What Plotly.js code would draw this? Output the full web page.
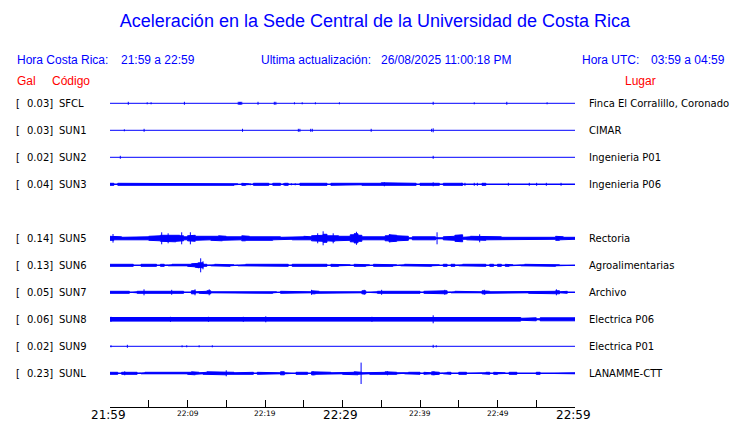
<!DOCTYPE html>
<html><head><meta charset="utf-8">
<script src="https://cdn.plot.ly/plotly-3.0.1.min.js"></script>
<style>html,body{margin:0;padding:0;background:#fff}#chart{width:740px;height:423px}</style>
</head><body><div id="chart"></div>
<script>
// ---------------- DATA ----------------
const codes = ['SFCL','SUN1','SUN2','SUN3','SUN5','SUN6','SUN7','SUN8','SUN9','SUNL'];
const galValues = ['0.03','0.03','0.02','0.04','0.14','0.13','0.05','0.06','0.02','0.23'];
const places = ['Finca El Corralillo, Coronado','CIMAR','Ingenieria P01','Ingenieria P06','Rectoria',
  'Agroalimentarias','Archivo','Electrica P06','Electrica P01','LANAMME-CTT'];
const rowSlots = [0,1,2,3,5,6,7,8,9,10];   // SUN4 slot (4) is empty

// minute labels of the time axis (minutes after 21:59)
const tickMinutes = [0,5,10,15,20,25,30,35,40,45,50,55,60];
const labelMinutes = [0,10,20,30,40,50,60];
const labelTexts = ['21:59','22:09','22:19','22:29','22:39','22:49','22:59'];

// amplitude envelopes, one value per half minute (120 values), relative units
const envSFCL = [];
const envSUN1 = [];
const envSUN2 = [];
const envSUN3 = [1,0,1,1,1,1,1,0.5,0.5,1, 1,1,1,0.5,1,1,1,1,1,1, 1,1,1,1,1,1,1,1,1,1,
  0.5,1,0.5,0,1,0.5,0,1,1,0.5, 1,0,1,1,0,1,0,0.5,0,1, 1,1,1,1,1,1,0,1,1,1,
  1,1,1,1,0.5,1,1,1,1,1, 1.5,1,1,1,1,1,1,1,1,0, 1,1,1,1.5,1,0,1,1,1,1,
  1,0,0,0,0,0,1,0,0,0, 0,0,0,0,0,0,0,0,0,0, 0,0,0,0,0,0,0,0,0,0];
const envSUN5 = [2,1.5,1.5,1,1.5,1,1,1.5,1.5,1.5, 2,2.5,2.5,3,3.5,3,3.5,3,2.5,1.5, 2.5,3,2,1.5,1.5,1.5,2,2,2.5,2,
  1.5,2,1.5,1.5,2.5,2,1.5,2,1.5,1.5, 2,2,1.5,1.5,1,1.5,1,1.5,1.5,1.5, 2,1.5,2.5,3,3,4,2.5,3,2.5,2,
  2,2,3.5,4.5,3,1.5,1.5,2,1.5,2, 1.5,2.5,3.5,3,2.5,2.5,2,0.5,1.5,1.5, 2,2,2,1.5,0.5,0.5,1.5,2,2,3,
  3.5,1,1.5,2,2,2,2,1.5,1.5,1.5, 1.5,1,1,1,1,1,1,1.5,1.5,1, 1.5,1,1,1,1,2,1.5,1,1,1];
const envSUN6 = [1,1,1,1,0.5,1,0,0,1,0.5, 1,1,0,1,0,0.5,1,1,1,0.5, 1,1.5,2,2.5,1,0,0.5,1,1,1,
  1,0.5,0,0.5,0.5,1,1,1,1,1, 1,1,1,0.5,1,1,0,1,1,0.5, 1,1,0.5,1,0.5,1,0,1,1,0.5,
  0.5,0.5,0,1,1,1,0.5,0,1,1, 1,1,1,0.5,0,0.5,1,0.5,1,1, 1,1,1,0.5,0.5,0,1,0,1,0,
  0.5,1,0.5,1,0.5,1,1,0,1,0, 1,0,1,0.5,0,0,0.5,1,0.5,1, 0.5,0.5,1,1,1,0.5,0,0,0,0];
const envSUN7 = [1,1,1,1,1,0,0.5,1,1.5,1, 1,1,1,1,1,1,1.5,1,1,0, 0,1.5,0.5,1,1,1.5,0.5,1,0.5,1,
  1,1,1,1,0.5,1,0.5,0.5,1,1, 1,1,0.5,0,1,1,1,1,1,1, 1,0.5,1.5,1,0.5,0.5,1,1,1,1,
  1,1,1,0.5,0.5,1.5,0,0.5,0.5,1, 1.5,1,1,1,1,1,1,1,1,1, 0,1,1,1,1,1.5,1.5,0,0.5,1,
  1,1,1,0.5,1,0.5,1.5,1,0.5,1, 1,1,1,1,0.5,1,1,0.5,1,1, 1,1,1,1,1,1.5,0.5,1,0,0];
const envSUN8 = [1.8,1.8,1.8,1.8,1.8,1.8,1.8,1.8,1.8,1.8, 1.8,1.8,1.8,1.8,1.8,1.8,1.8,1.8,1.8,1.8,
  1.8,1.8,1.8,1.8,1.8,1.8,1.8,1.8,1.8,1.8, 1.8,1.8,1.8,1.8,1.8,1.8,1.8,1.8,1.8,1.8,
  1.8,1.8,1.8,1.8,1.8,1.8,1.8,1.8,1.8,1.8, 1.8,1.8,1.8,1.8,1.8,1.8,1.8,1.8,1.8,1.8,
  1.8,1.8,1.8,1.8,1.8,1.8,1.8,1.8,1.8,1.8, 1.8,1.8,1.8,1.8,1.8,1.8,1.8,1.8,1.8,1.8,
  1.8,1.8,1.8,1.8,1.8,1.8,1.8,1.8,1.8,1.8, 1.8,1.8,1.8,1.8,1.8,1.8,1.8,1.8,1.8,1.8,
  1.8,1.8,1.8,1.8,1.8,1.8,1,1.5,1.5,1.5, 0.5,1.5,1,1.5,1,1.5,1.5,1,1.5,1.5];
const envSUN9 = [];
const envSUNL = [1,1,0,1,1,1,1,0,0.5,1, 1,1,0.5,0.5,1,1,1,1,1,0.5, 1,1.5,1,0.5,1,1.5,1,1,1,1.5,
  1,1,0.5,1,0.5,0.5,1,0,1,0.5, 1,0.5,1,0.5,1.5,0.5,0.5,0,1,0.5, 1,0,1.5,1,1,1,1,0.5,1,0.5,
  1,1,1,1.5,1,0.5,0.5,1,1,1, 1,1.5,1,1,0.5,0,0.5,1,1,1, 0,1,0.5,1.5,1,0,0.5,1,0,0,
  1,1,0,0,0.5,0,0.5,1,0,1, 0.5,0.5,0,1,1,0,0.5,0,0,0, 1,0,0,0.5,0.5,0,0,0.5,0,0.5];

// isolated spikes: [minute, relative half-amplitude]
const spkSFCL = [[2.36,1.5],[4.8,1],[5.3,1],[9.6,1.5],[16.55,1.5],[16.7,1.5],[16.85,1.5],[17.0,1.5],
  [19.1,1.5],[21.2,1.5],[21.4,1.5],[23.8,1],[24.8,1],[26.5,1],[29.6,1],[41.7,1.5],[47.0,1],[51.2,1.5],[56.4,1]];
const spkSUN1 = [[1.85,1],[4.4,1.5],[17.1,1.5],[24.3,1.5],[24.5,1.5],[25.9,1.5],[26.1,1.5],[33.7,1.5],[41.5,1.5],[41.7,2]];
const spkSUN2 = [[1.33,1.5],[41.7,1.5]];
const spkSUN3 = [[18.1,1],[22.4,1],[23.4,1],[23.9,1],[35.4,2],[41.7,2],[45.4,1.5],[45.8,1.5],[47.0,1.5],[47.4,1.5],
  [51.4,1.5],[54.1,1.5],[55.05,1.5],[56.3,1.5],[58.2,1.5]];
const spkSUN5 = [[0.39,4.3],[6.67,6],[7.5,5],[9.25,6],[10.37,6],[26.8,5],[27.5,7],[28.8,5],[31.6,5],[31.8,6.5],
  [36.1,4],[42.2,6],[47.7,4]];
const spkSUN6 = [[11.4,3],[11.7,7],[12.0,4]];
const spkSUN7 = [[4.39,3],[7.96,2.5],[10.97,3],[12.8,3],[26.0,2.5],[32.8,2.5],[35.05,2.5],[43.2,2.5],[48.3,2.5],[57.6,3]];
const spkSUN8 = [[0.13,2.5],[7.8,2.5],[12.7,2.5],[17.2,2.5],[20.1,3],[33.8,2.5],[41.7,4]];
const spkSUN9 = [[0.13,1],[2.24,1.5],[9.3,1],[9.9,1],[11.5,1],[13.2,1],[41.7,1.5],[42.1,1]];
const spkSUNL = [[1.9,2],[15.0,3],[26.2,2],[32.4,10.7],[35.8,2],[41.8,2]];

// ---------------- DRAWING ----------------
const BLUE = '#0000ff', RED = '#ff0000';
const binMinutes = 0.5;
const GAIN = 1/27;          // display gain: relative units -> row slots
const envs = [envSFCL,envSUN1,envSUN2,envSUN3,envSUN5,envSUN6,envSUN7,envSUN8,envSUN9,envSUNL];
const spks = [spkSFCL,spkSUN1,spkSUN2,spkSUN3,spkSUN5,spkSUN6,spkSUN7,spkSUN8,spkSUN9,spkSUNL];

const traces = [];
rowSlots.forEach((s,i)=>{
  traces.push({type:'scatter',mode:'lines',x:[tickMinutes[0],tickMinutes[tickMinutes.length-1]],y:[s,s],
    line:{color:BLUE,width:1},hoverinfo:'skip',showlegend:false});
  const env = envs[i];
  if (env.length){
    const xs=[], ys=[];
    env.forEach((a,b)=>{ xs.push(b*binMinutes,(b+1)*binMinutes); ys.push(s-a*GAIN,s-a*GAIN); });
    for (let b=env.length-1;b>=0;b--){ xs.push((b+1)*binMinutes,b*binMinutes); ys.push(s+env[b]*GAIN,s+env[b]*GAIN); }
    traces.push({type:'scatter',mode:'lines',x:xs,y:ys,fill:'toself',fillcolor:BLUE,
      line:{color:BLUE,width:1},hoverinfo:'skip',showlegend:false});
  }
  const sx=[], sy=[];
  spks[i].forEach(([t,h])=>{ sx.push(t,t,null); sy.push(s-h*GAIN,s+h*GAIN,null); });
  traces.push({type:'scatter',mode:'lines',x:sx,y:sy,line:{color:BLUE,width:1},hoverinfo:'skip',showlegend:false});
});

// plot area in pixels: x 110..575, y 88..407
const PL=110, PR=575, PT=88, PB=407;
const px = x => (x-PL)/(PR-PL);
const py = y => (PB-y)/(PB-PT);
const yTop = -0.567, yBot = 11.248;

const ann = [];
const A = (text,x,y,opt)=>ann.push(Object.assign({text,xref:'paper',yref:'paper',x:px(x),y:py(y),
  showarrow:false,xanchor:'left',yanchor:'middle',
  font:{family:'Liberation Sans, Arial, sans-serif',size:12,color:BLUE}},opt||{}));

A('Hora Costa Rica:',15,60.5);
A('21:59 a 22:59',119,60.5);
A('Ultima actualización:',259,60.5);
A('26/08/2025 11:00:18 PM',379,60.5);
A('Hora UTC:',580,60.5);
A('03:59 a 04:59',649,60.5);
A('Gal',15,81,{font:{family:'Liberation Sans, Arial, sans-serif',size:12,color:RED}});
A('Código',50,81,{font:{family:'Liberation Sans, Arial, sans-serif',size:12,color:RED}});
A('Lugar',640,81,{xanchor:'center',font:{family:'Liberation Sans, Arial, sans-serif',size:12,color:RED}});

const lf = {family:'DejaVu Sans, sans-serif',size:10,color:'#000'};
rowSlots.forEach((s,i)=>{
  const yy = 103.3 + 27*s;
  A('[',14,yy,{font:lf});
  A(galValues[i]+']',55,yy,{font:lf,xanchor:'right'});
  A(codes[i],57,yy,{font:lf});
  A(places[i],587,yy,{font:lf});
});

// time-axis labels (big at hours/half hours, small otherwise)
labelMinutes.forEach((m,i)=>{
  const big = (i%3===0);
  ann.push({text:labelTexts[i],xref:'x',yref:'paper',x:m,y:py(big?415:413.7),showarrow:false,
    xanchor:'center',yanchor:'middle',xshift:big?-2:0,
    font:{family:'DejaVu Sans, sans-serif',size:big?12:7.5,color:'#000'}});
});

const layout = {
  width:740,height:423,
  margin:{l:PL,r:740-PR,t:PT,b:423-PB,pad:0},
  paper_bgcolor:'#fff',plot_bgcolor:'#fff',
  showlegend:false,
  title:{text:'Aceleración en la Sede Central de la Universidad de Costa Rica',
    xref:'container',yref:'container',x:375/740,y:1-21/423,xanchor:'center',yanchor:'middle',
    font:{family:'Liberation Sans, Arial, sans-serif',size:18,color:BLUE}},
  xaxis:{range:[tickMinutes[0],tickMinutes[tickMinutes.length-1]],showgrid:false,zeroline:false,
    showline:true,linecolor:'#000',linewidth:1,
    tickmode:'array',tickvals:tickMinutes,ticks:'inside',ticklen:7,tickwidth:1,tickcolor:'#000',
    showticklabels:false,fixedrange:true},
  yaxis:{range:[yBot,yTop],visible:false,showgrid:false,zeroline:false,fixedrange:true},
  annotations:ann
};

Plotly.newPlot('chart',traces,layout,{staticPlot:true,displayModeBar:false});
</script></body></html>
